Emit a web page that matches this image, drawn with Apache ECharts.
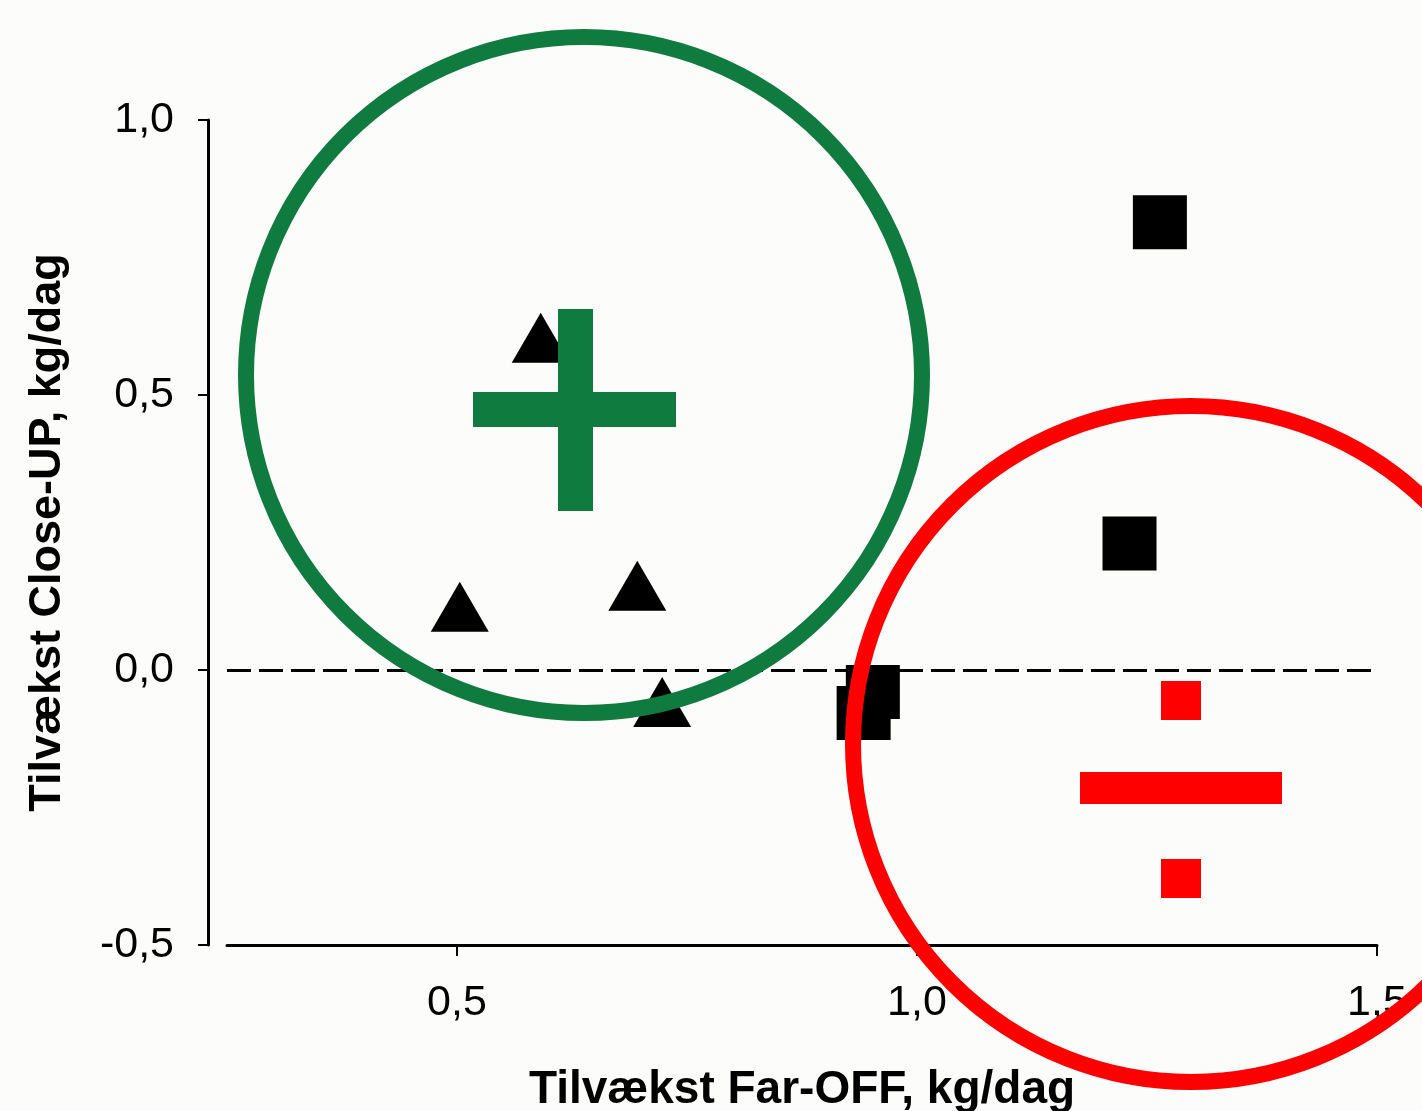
<!DOCTYPE html>
<html>
<head>
<meta charset="utf-8">
<script src="https://cdn.jsdelivr.net/npm/echarts@6/dist/echarts.min.js"></script>
<style>
  html, body { margin: 0; padding: 0; background: #fcfcfa; }
  #chart { width: 1422px; height: 1111px; }
</style>
</head>
<body>
<div id="chart"></div>
<script>
// ---- data ----
const triangleX = [0.503, 0.591, 0.696, 0.723];
const triangleY = [0.115, 0.604, 0.153, -0.058];
const squareX = [1.264, 1.231, 0.952, 0.942];
const squareY = [0.814, 0.230, -0.040, -0.078];
const xTicks = [0.5, 1.0, 1.5];
const yTicks = [-0.5, 0.0, 0.5, 1.0];
const refLineY = [0];
const xTitle = 'Tilvækst Far-OFF, kg/dag';
const yTitle = 'Tilvækst Close-UP, kg/dag';

const fmt = v => v.toFixed(1).replace('.', ',');
const pairs = (xs, ys) => xs.map((x, i) => [x, ys[i]]);

const FONT = '"Liberation Sans", Arial, sans-serif';
const GREEN = '#0f7b3f';
const RED = '#ff0000';

const chart = echarts.init(document.getElementById('chart'));
chart.setOption({
  backgroundColor: '#fcfcfa',
  animation: false,
  grid: { left: 227, right: 45, top: 120, bottom: 166, containLabel: false, outerBoundsMode: 'none' },
  xAxis: {
    type: 'value', min: 0.25, max: 1.5,
    name: xTitle, nameLocation: 'middle', nameGap: 122,
    nameTextStyle: { fontSize: 46, fontWeight: 'bold', color: '#000', fontFamily: FONT },
    axisLine: { show: true, onZero: false, lineStyle: { color: '#000', width: 3 } },
    axisTick: { show: true, length: 11, lineStyle: { color: '#000', width: 2 }, customValues: xTicks },
    axisLabel: { fontSize: 43, color: '#000', fontFamily: FONT, margin: 37, customValues: xTicks, formatter: fmt },
    splitLine: { show: false }
  },
  yAxis: {
    type: 'value', min: -0.5, max: 1.0, interval: 0.5, offset: 19,
    name: yTitle, nameLocation: 'middle', nameGap: 138,
    nameTextStyle: { fontSize: 45, fontWeight: 'bold', color: '#000', fontFamily: FONT },
    axisLine: { show: true, onZero: false, lineStyle: { color: '#000', width: 3 } },
    axisTick: { show: true, length: 10, lineStyle: { color: '#000', width: 2 } },
    axisLabel: { fontSize: 43, color: '#000', fontFamily: FONT, margin: 34, formatter: fmt },
    splitLine: { show: false }
  },
  series: [
    {
      type: 'scatter', name: 'triangles',
      data: pairs(triangleX, triangleY),
      symbol: 'triangle', symbolSize: [58, 50],
      itemStyle: { color: '#000', opacity: 1 },
      markLine: {
        silent: true, symbol: ['none', 'none'],
        label: { show: false },
        lineStyle: { color: '#000', width: 3, type: [24, 8], opacity: 1 },
        data: refLineY.map(v => ({ yAxis: v }))
      }
    },
    {
      type: 'scatter', name: 'squares',
      data: pairs(squareX, squareY),
      symbol: 'rect', symbolSize: 54,
      itemStyle: { color: '#000', opacity: 1 }
    }
  ],
  graphic: [
    { type: 'circle', z: 100, shape: { cx: 584, cy: 375, r: 338 },
      style: { fill: 'none', stroke: GREEN, lineWidth: 16 } },
    { type: 'rect', z: 101, shape: { x: 558, y: 309, width: 35, height: 202 }, style: { fill: GREEN } },
    { type: 'rect', z: 101, shape: { x: 473, y: 392, width: 203, height: 35 }, style: { fill: GREEN } },
    { type: 'circle', z: 100, shape: { cx: 1191, cy: 744, r: 338 },
      style: { fill: 'none', stroke: RED, lineWidth: 16 } },
    { type: 'rect', z: 101, shape: { x: 1161, y: 681, width: 40, height: 39 }, style: { fill: RED } },
    { type: 'rect', z: 101, shape: { x: 1080, y: 772, width: 202, height: 32 }, style: { fill: RED } },
    { type: 'rect', z: 101, shape: { x: 1161, y: 859, width: 40, height: 39 }, style: { fill: RED } }
  ]
});
</script>
</body>
</html>
